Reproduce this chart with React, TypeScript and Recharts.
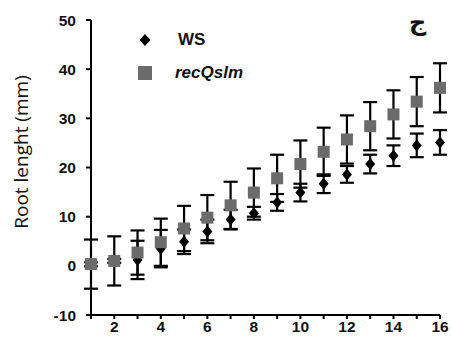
import React from 'react';
import { ScatterChart, Scatter, XAxis, YAxis, ErrorBar } from 'recharts';

// giorni / time points
const days = [1, 2, 3, 4, 5, 6, 7, 8, 9, 10, 11, 12, 13, 14, 15, 16];

// WS (black diamonds) – mean and error
const wsMean = [0.3, 1.0, 1.2, 3.5, 4.9, 7.0, 9.4, 10.7, 12.9, 14.9, 16.7, 18.6, 20.7, 22.4, 24.5, 25.1];
const wsErr = [0.4, 0.4, 3.9, 3.8, 2.5, 2.4, 2.0, 1.3, 1.7, 1.8, 1.9, 1.7, 1.9, 2.1, 2.4, 2.5];

// recQslm (grey squares) – mean and error
const recMean = [0.35, 1.0, 2.7, 4.8, 7.6, 9.8, 12.3, 14.9, 17.8, 20.7, 23.2, 25.7, 28.4, 30.8, 33.4, 36.2];
const recErr = [5.0, 5.0, 4.5, 4.8, 4.6, 4.6, 4.8, 4.9, 4.8, 4.8, 4.9, 4.9, 4.9, 4.9, 5.0, 5.0];

const yTicks = [-10, 0, 10, 20, 30, 40, 50];

const GREY = '#6b6b6b';
const TICK_FONT = { fontFamily: 'Liberation Sans, Arial, sans-serif', fontWeight: 700, fontSize: 15.5, fill: '#111' };

const wsData = days.map((d, i) => ({ day: d, v: wsMean[i], e: wsErr[i] }));
const recData = days.map((d, i) => ({ day: d, v: recMean[i], e: recErr[i] }));

const Diamond = (p: any) => (
  <path d={`M${p.cx},${p.cy - 6}L${p.cx + 5},${p.cy}L${p.cx},${p.cy + 6}L${p.cx - 5},${p.cy}Z`} fill="#000" />
);
const Square = (p: any) => <rect x={p.cx - 6} y={p.cy - 6} width={12} height={12} fill={GREY} />;

export default function App() {
  return (
    <div style={{ position: 'absolute', left: 0, top: 0, width: 452, height: 347, background: '#fff' }}>
      <ScatterChart width={452} height={347} margin={{ top: 20, right: 12, bottom: 0, left: 0 }}>
        <XAxis
          type="number"
          dataKey="day"
          domain={[1, 16]}
          ticks={days}
          interval={0}
          tickFormatter={(v) => (v % 2 === 0 ? String(v) : '')}
          tick={TICK_FONT}
          tickSize={4}
          height={32}
          stroke="#000"
          strokeWidth={2}
        />
        <YAxis
          type="number"
          dataKey="v"
          domain={[-10, 50]}
          ticks={yTicks}
          interval={0}
          tick={TICK_FONT}
          tickSize={5}
          tickMargin={10}
          width={91}
          stroke="#000"
          strokeWidth={2}
          label={{
            content: () => (
              <text
                x={28}
                y={152}
                transform="rotate(-90 28 152)"
                textAnchor="middle"
                style={{ fontFamily: 'Open Sans, sans-serif', fontSize: 19, fill: '#111' }}
              >
                Root lenght (mm)
              </text>
            ),
          }}
        />
        <Scatter data={wsData} dataKey="v" shape={Diamond} isAnimationActive={false}>
          <ErrorBar dataKey="e" direction="y" width={7} stroke="#000" strokeWidth={2.2} />
        </Scatter>
        <Scatter data={recData} dataKey="v" shape={Square} isAnimationActive={false}>
          <ErrorBar dataKey="e" direction="y" width={7} stroke="#000" strokeWidth={2.2} />
        </Scatter>
      </ScatterChart>
      {/* legend */}
      <div style={{ position: 'absolute', left: 138, top: 30, fontFamily: 'Liberation Sans, Arial, sans-serif', fontSize: 17, color: '#111' }}>
        <div style={{ display: 'flex', alignItems: 'center', height: 20 }}>
          <svg width={14} height={14}>
            <path d="M7,1L12.5,7L7,13L1.5,7Z" fill="#000" />
          </svg>
          <span style={{ marginLeft: 26, fontWeight: 700 }}>WS</span>
        </div>
        <div style={{ display: 'flex', alignItems: 'center', height: 20, marginTop: 13 }}>
          <svg width={14} height={14}>
            <rect x={0} y={0} width={14} height={14} fill={GREY} />
          </svg>
          <span style={{ marginLeft: 23, fontStyle: 'italic', fontWeight: 700 }}>recQslm</span>
        </div>
      </div>
      <div style={{ position: 'absolute', left: 409, top: 8, fontFamily: 'DejaVu Sans, sans-serif', fontSize: 24, fontWeight: 700, color: '#111' }}>ج</div>
    </div>
  );
}
